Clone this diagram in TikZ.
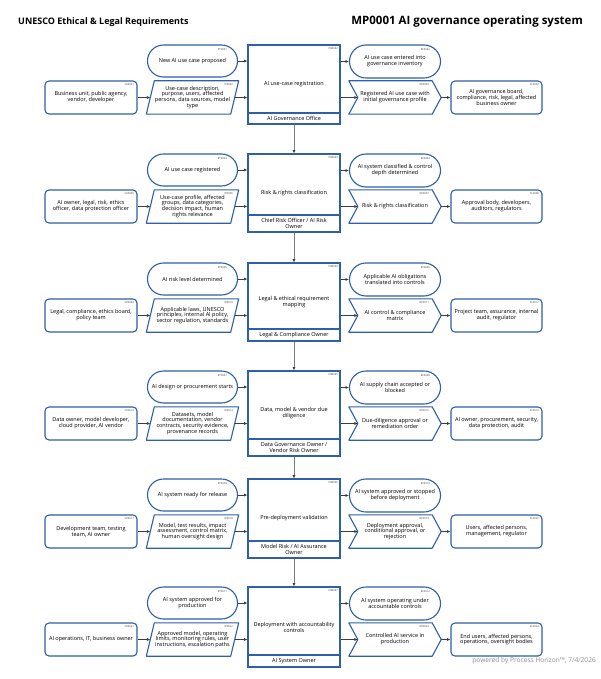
\documentclass[tikz,border=0pt]{standalone}
\usepackage{fontspec}
\setmainfont{Open Sans}
\usetikzlibrary{shapes.misc,arrows.meta,calc}
\definecolor{bl}{RGB}{46,95,168}
\definecolor{ar}{RGB}{60,60,60}
\definecolor{vg}{RGB}{125,125,125}
\tikzset{
 gtxt/.style={align=center, inner sep=0.5pt, font=\fontsize{5.5}{5.9}\selectfont},
 gbox/.style={gtxt, draw=bl, line width=1.1pt},
 evbox/.style={gbox, rounded rectangle, minimum width=91pt, minimum height=32pt},
 rbox/.style={gbox, rectangle, rounded corners=4pt, minimum width=92pt, minimum height=33pt},
 hidbox/.style={gtxt, rectangle, minimum width=92pt, minimum height=33pt},
 prbox/.style={gbox, rectangle, minimum width=92pt},
 outl/.style={draw=bl, line width=1.1pt, line join=round},
 idl/.style={font=\fontsize{2.6}{3}\selectfont, inner sep=0pt, anchor=north east, text=black!80},
 arr/.style={draw=ar, line width=0.75pt, -{Latex[length=3.4pt,width=3pt]}},
 varr/.style={draw=vg, line width=1pt, -{Latex[length=3.4pt,width=3pt,color=ar]}},
}
% #1 row number, #2 top, #3 separator, #4 bottom
\newcommand\govrow[4]{%
 \node[evbox] (ev#1) at (192.5,#2+16) {\tEv};
 \node[idl] (ev#1id) at (227,#2+3) {\iEv};
 \node[rbox] (su#1) at (91,#2+52.5) {\tSu};
 \node[idl] (su#1id) at (134,#2+38) {\iSu};
 \node[hidbox] (in#1) at (192.5,#2+52.5) {\tIn};
 \draw[outl] ([xshift=8pt]in#1.north west) -- (in#1.north east) -- ([xshift=-8pt]in#1.south east) -- (in#1.south west) -- cycle;
 \node[idl] (in#1id) at (233,#2+38) {\iIn};
 \node[prbox, minimum height={(#4-#2)*1pt}] (pr#1) at (294,{(#2+#4)/2}) {\tPr};
 \node[idl] (pr#1id) at (338,#2+2.5) {\iPr};
 \draw[draw=bl, line width=1.1pt] (248,#3) -- (340,#3);
 \node[gtxt] (ro#1) at (294,{(#3+#4)/2}) {\tRo};
 \node[evbox, minimum width=92pt, minimum height=33pt] (ee#1) at (395,#2+16.5) {\tEe};
 \node[idl] (ee#1id) at (430,#2+3) {\iEe};
 \node[hidbox] (ou#1) at (395,#2+52.5) {\tOu};
 \draw[outl] (ou#1.north west) -- ([xshift=-9pt]ou#1.north east) -- (ou#1.east) -- ([xshift=-9pt]ou#1.south east) -- (ou#1.south west) -- ([xshift=9pt]ou#1.west) -- cycle;
 \node[idl] (ou#1id) at (429,#2+38) {\iOu};
 \node[rbox, minimum width=91pt] (cu#1) at (496.5,#2+52.5) {\tCu};
 \node[idl] (cu#1id) at (539,#2+38) {\iCu};
 \draw[arr] (ev#1.east) -- (ev#1.east -| pr#1.west);
 \draw[arr] (su#1.east) -- ([xshift=4pt]in#1.west);
 \draw[arr] ([xshift=-4pt]in#1.east) -- (in#1.east -| pr#1.west);
 \draw[arr] (ee#1.west -| pr#1.east) -- (ee#1.west);
 \draw[arr] (ou#1.west -| pr#1.east) -- ([xshift=9pt]ou#1.west);
 \draw[arr] (ou#1.east) -- (cu#1.west);
}
\begin{document}
\begin{tikzpicture}[x=1pt,y=-1pt]
\useasboundingbox[fill=white] (0,0) rectangle (600,679);
\node[anchor=west, inner sep=0pt, font=\bfseries\fontsize{9}{10}\selectfont] (t1) at (18,22) {UNESCO Ethical \& Legal Requirements};
\node[anchor=east, inner sep=0pt, font=\bfseries\fontsize{11.5}{12.5}\selectfont] (t2) at (583,22) {MP0001 AI governance operating system};
% row 1
\def\tEv{New AI use case proposed}\def\iEv{ET0001}
\def\tSu{Business unit, public agency,\\vendor, developer}\def\iSu{SU0001}
\def\tIn{Use-case description,\\purpose, users, affected\\persons, data sources, model\\type}\def\iIn{IP0002}
\def\tPr{AI use-case registration}\def\iPr{PR0032}
\def\tRo{AI Governance Office}
\def\tEe{AI use case entered into\\governance inventory}\def\iEe{EC0002}
\def\tOu{Registered AI use case with\\initial governance profile}\def\iOu{OP0003}
\def\tCu{AI governance board,\\compliance, risk, legal, affected\\business owner}\def\iCu{CL0004}
\govrow{1}{45}{113}{124}
% row 2
\def\tEv{AI use case registered}\def\iEv{ET0003}
\def\tSu{AI owner, legal, risk, ethics\\officer, data protection officer}\def\iSu{SU0005}
\def\tIn{Use-case profile, affected\\groups, data categories,\\decision impact, human\\rights relevance}\def\iIn{IP0006}
\def\tPr{Risk \& rights classification}\def\iPr{PR0033}
\def\tRo{Chief Risk Officer / AI Risk\\Owner}
\def\tEe{AI system classified \& control\\depth determined}\def\iEe{EC0004}
\def\tOu{Risk \& rights classification}\def\iOu{OP0007}
\def\tCu{Approval body, developers,\\auditors, regulators}\def\iCu{CL0008}
\govrow{2}{154}{215}{232}
% row 3
\def\tEv{AI risk level determined}\def\iEv{ET0005}
\def\tSu{Legal, compliance, ethics board,\\policy team}\def\iSu{SU0009}
\def\tIn{Applicable laws, UNESCO\\principles, internal AI policy,\\sector regulation, standards}\def\iIn{IP0010}
\def\tPr{Legal \& ethical requirement\\mapping}\def\iPr{PR0034}
\def\tRo{Legal \& Compliance Owner}
\def\tEe{Applicable AI obligations\\translated into controls}\def\iEe{EC0006}
\def\tOu{AI control \& compliance\\matrix}\def\iOu{OP0011}
\def\tCu{Project team, assurance, internal\\audit, regulator}\def\iCu{CL0012}
\govrow{3}{263}{329}{341}
% row 4
\def\tEv{AI design or procurement starts}\def\iEv{ET0007}
\def\tSu{Data owner, model developer,\\cloud provider, AI vendor}\def\iSu{SU0013}
\def\tIn{Datasets, model\\documentation, vendor\\contracts, security evidence,\\provenance records}\def\iIn{IP0014}
\def\tPr{Data, model \& vendor due\\diligence}\def\iPr{PR0035}
\def\tRo{Data Governance Owner /\\Vendor Risk Owner}
\def\tEe{AI supply chain accepted or\\blocked}\def\iEe{EC0008}
\def\tOu{Due-diligence approval or\\remediation order}\def\iOu{OP0015}
\def\tCu{AI owner, procurement, security,\\data protection, audit}\def\iCu{CL0016}
\govrow{4}{371}{439}{456}
% row 5
\def\tEv{AI system ready for release}\def\iEv{ET0009}
\def\tSu{Development team, testing\\team, AI owner}\def\iSu{SU0017}
\def\tIn{Model, test results, impact\\assessment, control matrix,\\human oversight design}\def\iIn{IP0018}
\def\tPr{Pre-deployment validation}\def\iPr{PR0036}
\def\tRo{Model Risk / AI Assurance\\Owner}
\def\tEe{AI system approved or stopped\\before deployment}\def\iEe{EC0010}
\def\tOu{Deployment approval,\\conditional approval, or\\rejection}\def\iOu{OP0019}
\def\tCu{Users, affected persons,\\management, regulator}\def\iCu{CL0020}
\govrow{5}{479}{541}{558}
% row 6
\def\tEv{AI system approved for\\production}\def\iEv{ET0011}
\def\tSu{AI operations, IT, business owner}\def\iSu{SU0021}
\def\tIn{Approved model, operating\\limits, monitoring rules, user\\instructions, escalation paths}\def\iIn{IP0022}
\def\tPr{Deployment with accountability\\controls}\def\iPr{PR0037}
\def\tRo{AI System Owner}
\def\tEe{AI system operating under\\accountable controls}\def\iEe{EC0012}
\def\tOu{Controlled AI service in\\production}\def\iOu{OP0023}
\def\tCu{End users, affected persons,\\operations, oversight bodies}\def\iCu{CL0024}
\govrow{6}{587}{655}{667}
% vertical flow
\draw[varr] (pr1.south) -- (pr2.north);
\draw[varr] (pr2.south) -- (pr3.north);
\draw[varr] (pr3.south) -- (pr4.north);
\draw[varr] (pr4.south) -- (pr5.north);
\draw[varr] (pr5.south) -- (pr6.north);
\node[anchor=east, inner sep=0pt, text=black!45, font=\fontsize{6.6}{7.5}\selectfont] (foot) at (596,661) {powered by Process Horizon™, 7/4/2026};
\end{tikzpicture}
\end{document}
